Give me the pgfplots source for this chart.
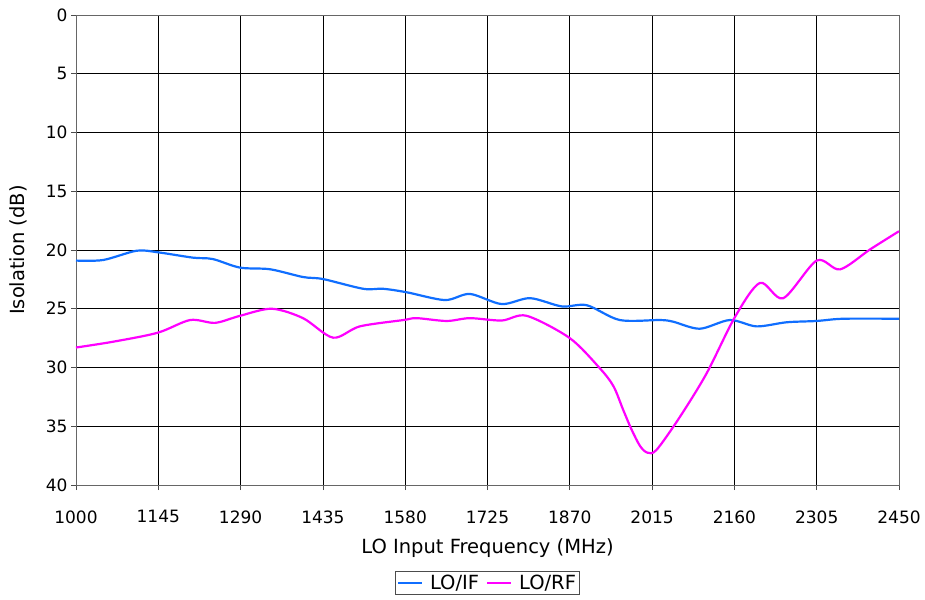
\documentclass[border=0pt]{standalone}
\usepackage{pgfplots}
\pgfplotsset{compat=1.18}
\usepackage{fontspec}
\setmainfont{DejaVu Sans}
\definecolor{ifblue}{RGB}{16,110,255}
\definecolor{rfmag}{RGB}{255,0,255}

\begin{document}
\begin{tikzpicture}
\begin{axis}[
    scale only axis,
    width=823pt, height=470pt,
    xmin=1000, xmax=2450,
    ymin=0, ymax=40,
    y dir=reverse,
    xtick={1000,1145,...,2450},
    ytick={0,5,...,40},
    /pgf/number format/assume math mode=true,
    xticklabel style={/pgf/number format/1000 sep={}, yshift=-17pt},
    tick align=outside,
    xtick pos=bottom, ytick pos=left,
    major tick length=5pt,
    grid=major,
    major grid style={black, line width=0.8pt},
    axis line style={black!60, line width=0.8pt},
    tick style={black!70, line width=0.8pt},
    font=\fontsize{17}{20}\selectfont,
    xlabel={LO Input Frequency (MHz)},
    ylabel={Isolation (dB)},
    label style={font=\fontsize{19.5}{22}\selectfont},
    xlabel style={at={(axis description cs:0.5,-0.134)}, anchor=center},
    ylabel style={at={(axis description cs:-0.0705,0.5)}, anchor=center},
    legend columns=2,
    legend style={at={(0.5,-0.2085)}, anchor=center, draw=black!70,
        inner sep=1.5pt, column sep=5pt, font=\fontsize{19.5}{22}\selectfont},
    legend image code/.code={\draw[#1, line width=2pt] (0pt,0pt) -- (24pt,0pt);},
]
\addplot[ifblue, line width=2.2pt, smooth, tension=0.5] coordinates {
(1000,20.9) (1048,20.85) (1107,20.06) (1145,20.2) (1206,20.65) (1241,20.77)
(1289,21.5) (1342,21.64) (1400,22.3) (1435,22.47) (1506,23.3) (1541,23.3)
(1583,23.6) (1650,24.26) (1694,23.74) (1750,24.6) (1800,24.1) (1856,24.8)
(1900,24.7) (1958,25.96) (2029,25.96) (2052,26.1) (2099,26.7) (2152,25.96)
(2199,26.5) (2252,26.15) (2305,26.04) (2352,25.85) (2450,25.85)
};
\addplot[rfmag, line width=2.2pt, smooth, tension=0.5] coordinates {
(1000,28.3) (1066,27.8) (1144,27.04) (1201,25.96) (1245,26.2) (1289,25.6)
(1345,25.0) (1400,25.8) (1453,27.46) (1500,26.5) (1577,25.96) (1600,25.8)
(1653,26.04) (1694,25.8) (1750,26.0) (1794,25.6) (1870,27.5) (1923,30.07)
(1947,31.6) (1964,33.6) (1979,35.3) (1994,36.7) (2007,37.25) (2023,37.0)
(2064,34.2) (2111,30.5)
(2161,25.7) (2205,22.8) (2246,24.1) (2305,20.9) (2346,21.65) (2399,19.95)
(2450,18.4)
};
\legend{LO/IF, LO/RF}
\end{axis}
\pgfresetboundingbox
\path[use as bounding box] (-76pt,-114pt) rectangle (849pt,485pt);
\end{tikzpicture}
\end{document}
